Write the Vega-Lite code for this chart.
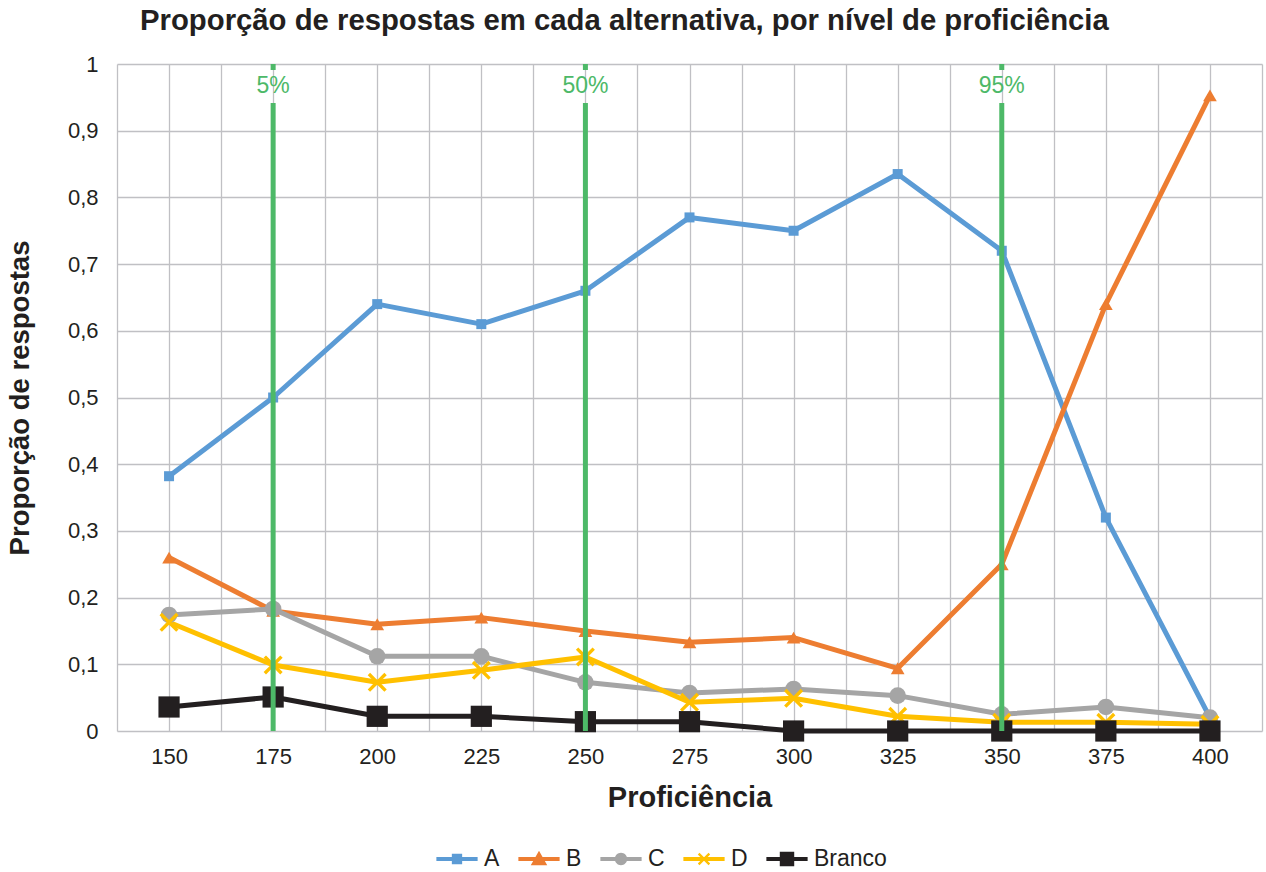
{
  "$schema": "https://vega.github.io/schema/vega-lite/v6.json",
  "width": 1145,
  "height": 667,
  "autosize": {"type": "none"},
  "padding": {"left": 117, "top": 64, "right": 4, "bottom": 141},
  "background": "white",
  "title": {
    "text": "Proporção de respostas em cada alternativa, por nível de proficiência",
    "anchor": "start",
    "frame": "group",
    "dx": 23,
    "dy": 41,
    "offset": 35,
    "baseline": "alphabetic",
    "fontSize": 29.3,
    "fontWeight": "bold",
    "font": "Liberation Sans",
    "color": "#231F20"
  },
  "datasets": {
    "series": [
      {"prof": 150, "alt": "A", "v": 0.382}, {"prof": 175, "alt": "A", "v": 0.50}, {"prof": 200, "alt": "A", "v": 0.64}, {"prof": 225, "alt": "A", "v": 0.61}, {"prof": 250, "alt": "A", "v": 0.66}, {"prof": 275, "alt": "A", "v": 0.77}, {"prof": 300, "alt": "A", "v": 0.75}, {"prof": 325, "alt": "A", "v": 0.835}, {"prof": 350, "alt": "A", "v": 0.72}, {"prof": 375, "alt": "A", "v": 0.32}, {"prof": 400, "alt": "A", "v": 0.02},
      {"prof": 150, "alt": "B", "v": 0.26}, {"prof": 175, "alt": "B", "v": 0.18}, {"prof": 200, "alt": "B", "v": 0.16}, {"prof": 225, "alt": "B", "v": 0.17}, {"prof": 250, "alt": "B", "v": 0.15}, {"prof": 275, "alt": "B", "v": 0.133}, {"prof": 300, "alt": "B", "v": 0.14}, {"prof": 325, "alt": "B", "v": 0.094}, {"prof": 350, "alt": "B", "v": 0.25}, {"prof": 375, "alt": "B", "v": 0.64}, {"prof": 400, "alt": "B", "v": 0.953},
      {"prof": 150, "alt": "C", "v": 0.174}, {"prof": 175, "alt": "C", "v": 0.183}, {"prof": 200, "alt": "C", "v": 0.112}, {"prof": 225, "alt": "C", "v": 0.112}, {"prof": 250, "alt": "C", "v": 0.073}, {"prof": 275, "alt": "C", "v": 0.057}, {"prof": 300, "alt": "C", "v": 0.063}, {"prof": 325, "alt": "C", "v": 0.053}, {"prof": 350, "alt": "C", "v": 0.025}, {"prof": 375, "alt": "C", "v": 0.036}, {"prof": 400, "alt": "C", "v": 0.02},
      {"prof": 150, "alt": "D", "v": 0.163}, {"prof": 175, "alt": "D", "v": 0.099}, {"prof": 200, "alt": "D", "v": 0.073}, {"prof": 225, "alt": "D", "v": 0.091}, {"prof": 250, "alt": "D", "v": 0.111}, {"prof": 275, "alt": "D", "v": 0.043}, {"prof": 300, "alt": "D", "v": 0.049}, {"prof": 325, "alt": "D", "v": 0.022}, {"prof": 350, "alt": "D", "v": 0.013}, {"prof": 375, "alt": "D", "v": 0.013}, {"prof": 400, "alt": "D", "v": 0.01},
      {"prof": 150, "alt": "Branco", "v": 0.036}, {"prof": 175, "alt": "Branco", "v": 0.051}, {"prof": 200, "alt": "Branco", "v": 0.022}, {"prof": 225, "alt": "Branco", "v": 0.022}, {"prof": 250, "alt": "Branco", "v": 0.014}, {"prof": 275, "alt": "Branco", "v": 0.014}, {"prof": 300, "alt": "Branco", "v": 0}, {"prof": 325, "alt": "Branco", "v": 0}, {"prof": 350, "alt": "Branco", "v": 0}, {"prof": 375, "alt": "Branco", "v": 0}, {"prof": 400, "alt": "Branco", "v": 0}
    ],
    "marks": [
      {"prof": 175, "y1": 0, "y2": 0.9415}, {"prof": 175, "y1": 0.991, "y2": 1},
      {"prof": 250, "y1": 0, "y2": 0.9415}, {"prof": 250, "y1": 0.991, "y2": 1},
      {"prof": 350, "y1": 0, "y2": 0.9415}, {"prof": 350, "y1": 0.991, "y2": 1}
    ],
    "labels": [
      {"prof": 175, "y": 0.967, "label": "5%"},
      {"prof": 250, "y": 0.967, "label": "50%"},
      {"prof": 350, "y": 0.967, "label": "95%"}
    ]
  },
  "resolve": {"legend": {"color": "independent", "shape": "independent", "size": "independent"}},
  "layer": [
    {
      "data": {"name": "series"},
      "mark": {"type": "line", "strokeWidth": 5, "strokeJoin": "round"},
      "encoding": {
        "x": {
          "field": "prof", "type": "quantitative",
          "scale": {"domain": [137.5, 412.5], "nice": false, "zero": false},
          "axis": {
            "title": "Proficiência",
            "values": [137.5, 150, 162.5, 175, 187.5, 200, 212.5, 225, 237.5, 250, 262.5, 275, 287.5, 300, 312.5, 325, 337.5, 350, 362.5, 375, 387.5, 400, 412.5],
            "labelExpr": "datum.value % 25 == 0 ? datum.label : ''",
            "ticks": false,
            "domain": false,
            "grid": true,
            "gridColor": "#C0C0C4",
            "gridWidth": 1.3,
            "labelFont": "Liberation Sans",
            "labelFontSize": 22,
            "labelColor": "#231F20",
            "labelPadding": 15,
            "labelFlush": false,
            "labelOverlap": false,
            "titleFont": "Liberation Sans",
            "titleFontSize": 29,
            "titleFontWeight": "bold",
            "titleColor": "#231F20",
            "titleY": 66,
            "titleBaseline": "middle"
          }
        },
        "y": {
          "field": "v", "type": "quantitative",
          "scale": {"domain": [0, 1], "nice": false},
          "axis": {
            "title": "Proporção de respostas",
            "values": [0, 0.1, 0.2, 0.3, 0.4, 0.5, 0.6, 0.7, 0.8, 0.9, 1],
            "labelExpr": "replace(format(datum.value, '~g'), '.', ',')",
            "ticks": false,
            "domain": false,
            "grid": true,
            "gridColor": "#C0C0C4",
            "gridWidth": 1.3,
            "labelFont": "Liberation Sans",
            "labelFontSize": 22,
            "labelColor": "#231F20",
            "labelPadding": 19,
            "labelFlush": false,
            "labelOverlap": false,
            "titleFont": "Liberation Sans",
            "titleFontSize": 27.5,
            "titleFontWeight": "bold",
            "titleColor": "#231F20",
            "titleX": -97,
            "titleY": 333.5,
            "titleAngle": -90,
            "titleAlign": "center",
            "titleBaseline": "middle"
          }
        },
        "color": {
          "field": "alt", "type": "nominal",
          "scale": {"domain": ["A", "B", "C", "D", "Branco"], "range": ["#5B9BD5", "#ED7D31", "#A5A5A5", "#FFC000", "#231F20"]},
          "legend": {
            "title": null,
            "orient": "none",
            "direction": "horizontal",
            "legendX": 319,
            "legendY": 774,
            "symbolSize": 1700,
            "symbolStrokeWidth": 0,
            "labelFont": "Liberation Sans",
            "labelFontSize": 23,
            "labelColor": "#231F20",
            "labelOffset": 6,
            "columnPadding": 18,
            "encode": {
              "symbols": {
                "update": {
                  "shape": {"signal": "datum.value === 'A' ? 'M-1,-0.1H1V0.1H-1Z M-0.25,-0.25H0.25V0.25H-0.25Z' : datum.value === 'B' ? 'M-1,-0.1H1V0.1H-1Z M0,-0.4L0.4,0.3H-0.4Z' : datum.value === 'C' ? 'M-1,-0.1H1V0.1H-1Z M0.3,0A0.3,0.3 0 1,1 -0.3,0A0.3,0.3 0 1,1 0.3,0Z' : datum.value === 'D' ? 'M-1,-0.1H1V0.1H-1Z M-0.3,-0.22L-0.22,-0.3L0.3,0.22L0.22,0.3Z M0.22,-0.3L0.3,-0.22L-0.22,0.3L-0.3,0.22Z' : 'M-1,-0.1H1V0.1H-1Z M-0.35,-0.35H0.35V0.35H-0.35Z'"},
                  "fill": {"scale": "color", "field": "value"},
                  "strokeWidth": {"value": 0}
                }
              }
            }
          }
        }
      }
    },
    {
      "data": {"name": "series"},
      "mark": {"type": "point", "filled": true, "opacity": 1},
      "encoding": {
        "x": {"field": "prof", "type": "quantitative"},
        "y": {"field": "v", "type": "quantitative"},
        "color": {"field": "alt", "type": "nominal", "legend": null},
        "shape": {
          "field": "alt", "type": "nominal",
          "scale": {"domain": ["A", "B", "C", "D", "Branco"], "range": ["square", "triangle-up", "circle", "M-1,-0.75L-0.75,-1L0,-0.25L0.75,-1L1,-0.75L0.25,0L1,0.75L0.75,1L0,0.25L-0.75,1L-1,0.75L-0.25,0Z", "square"]},
          "legend": null
        },
        "size": {
          "field": "alt", "type": "nominal",
          "scale": {"domain": ["A", "B", "C", "D", "Branco"], "range": [100, 450, 150, 100, 230]},
          "legend": null
        }
      }
    },
    {
      "data": {"name": "marks"},
      "mark": {"type": "rule", "color": "#4DB968", "strokeWidth": 5},
      "encoding": {
        "x": {"field": "prof", "type": "quantitative"},
        "y": {"field": "y1", "type": "quantitative"},
        "y2": {"field": "y2"}
      }
    },
    {
      "data": {"name": "labels"},
      "mark": {"type": "text", "color": "#4DB968", "font": "Liberation Sans", "fontSize": 23, "align": "center", "baseline": "middle"},
      "encoding": {
        "x": {"field": "prof", "type": "quantitative"},
        "y": {"field": "y", "type": "quantitative"},
        "text": {"field": "label"}
      }
    }
  ],
  "config": {
    "view": {"stroke": null}
  }
}
